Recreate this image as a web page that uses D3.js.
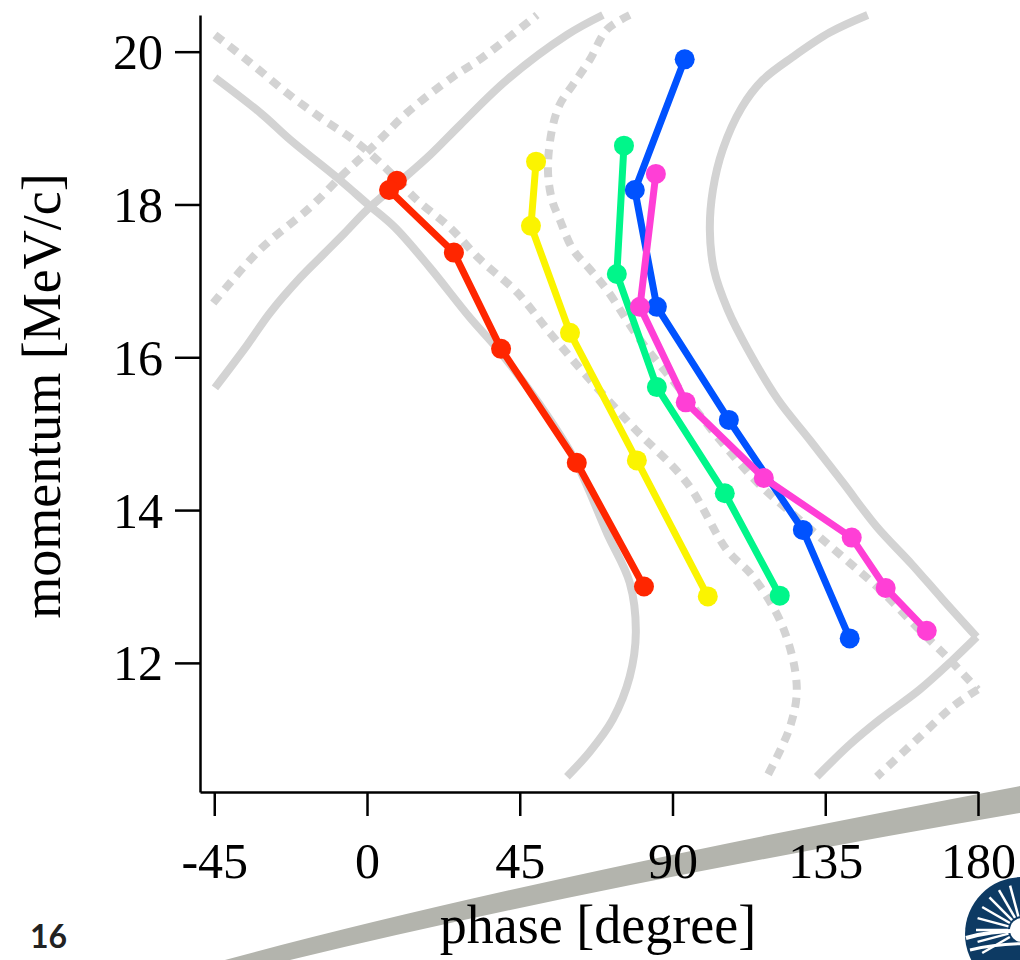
<!DOCTYPE html>
<html>
<head>
<meta charset="utf-8">
<script src="https://cdn.jsdelivr.net/npm/d3@7"></script>
<style>
  body { margin: 0; background: #fff; }
  svg { display: block; }
</style>
</head>
<body>
<svg id="chart" width="1020" height="960"></svg>
<script>
// ---- axis ticks ----
const xTicks = [-45, 0, 45, 90, 135, 180];
const yTicks = [12, 14, 16, 18, 20];

// ---- measured scans: [phase (degree), momentum (MeV/c)] ----
const redSeries = [[8.8, 18.31], [6.5, 18.19], [25.6, 17.37], [39.5, 16.11], [61.8, 14.62], [81.6, 13.0]];
const yellowSeries = [[49.8, 18.56], [48.3, 17.72], [59.8, 16.32], [79.5, 14.65], [100.4, 12.87]];
const greenSeries = [[75.7, 18.77], [73.6, 17.09], [85.4, 15.61], [105.4, 14.22], [121.6, 12.88]];
const blueSeries = [[93.6, 19.9], [78.9, 18.19], [85.4, 16.66], [106.6, 15.18], [128.4, 13.74], [142.2, 12.32]];
const magentaSeries = [[85.1, 18.4], [80.4, 16.66], [93.9, 15.41], [116.9, 14.42], [142.8, 13.64], [152.8, 12.98], [164.9, 12.42]];

// ---- simulated acceptance boundaries (grey) ----
const guideSolidA = [[-44.8, 19.66], [-30.9, 19.18], [-22.7, 18.85], [-8.0, 18.32], [0.3, 18.0], [8.2, 17.70],
  [18.6, 17.17], [30.3, 16.52], [39.2, 16.07], [50.9, 15.38], [61.2, 14.66], [70.7, 13.70], [77.4, 13.05],
  [79.2, 12.40], [77.4, 11.82], [72.4, 11.26], [65.7, 10.84], [58.9, 10.51]];
const guideSolidB = [[-44.8, 15.60], [-35.3, 16.16], [-28.6, 16.58], [-19.7, 17.04], [-13.0, 17.34], [-6.5, 17.63],
  [0, 17.93], [9.7, 18.30], [18.6, 18.65], [27.4, 19.04], [41.2, 19.63], [58.9, 20.22], [69.5, 20.48]];
const guideSolidCUpper = [[147.5, 20.48], [136.3, 20.25], [125.4, 19.93], [116.6, 19.63], [110.4, 19.27],
  [104.8, 18.72], [101.9, 18.19], [101.0, 17.67], [102.2, 17.15], [106.3, 16.62], [112.2, 16.10], [121.0, 15.45],
  [130.4, 14.92], [140.2, 14.36], [150.2, 13.78], [160.5, 13.29], [169.6, 12.83], [179.6, 12.34]];
const guideSolidCLower = [[179.6, 12.34], [172.6, 12.04], [162.8, 11.65], [151.1, 11.26], [142.2, 10.93], [132.5, 10.51]];
const guideDottedA = [[-44.8, 20.22], [-34.5, 19.86], [-23.6, 19.46], [-13.8, 19.14], [-2.9, 18.81], [5.9, 18.46],
  [14.7, 18.06], [24.4, 17.70], [33.3, 17.28], [44.2, 16.85], [53.9, 16.32], [64.8, 15.75], [78.3, 15.09],
  [94.2, 14.36], [106.0, 13.48], [113.7, 13.13], [122.5, 12.47], [126.6, 11.69], [124.6, 11.16], [117.8, 10.51]];
const guideDottedB = [[-45.3, 16.71], [-31.5, 17.41], [-16.8, 17.96], [-7.1, 18.39], [1.8, 18.76], [11.8, 19.20],
  [25.3, 19.67], [33.3, 19.90], [50.1, 20.48]];
const guideDottedCUpper = [[77.4, 20.48], [70.7, 20.29], [65.7, 19.90], [60.7, 19.57], [56.8, 19.31], [54.5, 18.98],
  [53.3, 18.46], [54.5, 18.06], [56.8, 17.80], [60.7, 17.41], [65.7, 17.15], [70.7, 16.88], [80.4, 16.23],
  [92.2, 15.58], [103.9, 14.92], [115.7, 14.33], [127.5, 13.87], [139.3, 13.42], [151.1, 12.96], [162.8, 12.43],
  [171.7, 12.04], [179.9, 11.65]];
const guideDottedCLower = [[179.9, 11.65], [172.6, 11.43], [162.8, 11.03], [150.2, 10.51]];

const solidGuides = [guideSolidA, guideSolidB, guideSolidCUpper, guideSolidCLower];
const dottedGuides = [guideDottedA, guideDottedB, guideDottedCUpper, guideDottedCLower];

const series = [
  { name: "red", color: "#ff2600", values: redSeries },
  { name: "yellow", color: "#fbf400", values: yellowSeries },
  { name: "green", color: "#00f68a", values: greenSeries },
  { name: "blue", color: "#0052ff", values: blueSeries },
  { name: "magenta", color: "#ff3fd6", values: magentaSeries }
];

const serif = "'Liberation Serif', 'Times New Roman', serif";
const svg = d3.select("#chart");

// slide swoosh behind the axis labels
svg.append("path")
  .attr("d", "M225,960 Q520,880 1020,786 L1020,813 Q600,885 290,960 Z")
  .attr("fill", "#b3b4ad");

const x = d3.scaleLinear().domain([-49.2, 180]).range([200, 978]);
const y = d3.scaleLinear().domain([10.31, 20.48]).range([792, 15]);

const guideLine = d3.line()
  .x(d => x(d[0]))
  .y(d => y(d[1]))
  .curve(d3.curveCatmullRom.alpha(0.5));

const gGuides = svg.append("g")
  .attr("fill", "none")
  .attr("stroke", "#d3d3d3")
  .attr("stroke-width", 8)
  .attr("stroke-linejoin", "miter");
gGuides.selectAll("path.solid").data(solidGuides).join("path")
  .attr("class", "solid")
  .attr("d", guideLine);
gGuides.selectAll("path.dotted").data(dottedGuides).join("path")
  .attr("class", "dotted")
  .attr("stroke-dasharray", "10,8")
  .attr("d", guideLine);

// axes
const yAxis = d3.axisLeft(y).tickValues(yTicks).tickSize(25).tickSizeOuter(0).tickFormat(d => String(d));
const xAxis = d3.axisBottom(x).tickValues(xTicks).tickSize(24).tickSizeOuter(0).tickFormat(d => String(d));

const gy = svg.append("g").attr("transform", "translate(200,0)").call(yAxis);
const gx = svg.append("g").attr("transform", "translate(0,792)").call(xAxis);

[gx, gy].forEach(g => {
  g.select(".domain").attr("stroke", "#000").attr("stroke-width", 2.5);
  g.selectAll(".tick line").attr("stroke", "#000").attr("stroke-width", 2.5);
  g.selectAll(".tick text")
    .attr("fill", "#000")
    .style("font-family", serif)
    .style("font-size", "50px");
});
gy.selectAll(".tick text").attr("x", -37).attr("dy", "0.34em");
gx.selectAll(".tick text").attr("y", 86).attr("dy", 0);

// axis titles
svg.append("text")
  .attr("transform", "translate(60,396) rotate(-90)")
  .attr("text-anchor", "middle")
  .style("font-family", serif)
  .style("font-size", "54px")
  .attr("fill", "#000")
  .text("momentum [MeV/c]");

svg.append("text")
  .attr("x", 598)
  .attr("y", 943)
  .attr("text-anchor", "middle")
  .style("font-family", serif)
  .style("font-size", "54px")
  .attr("fill", "#000")
  .text("phase [degree]");

// measured scans
const dataLine = d3.line().x(d => x(d[0])).y(d => y(d[1]));
const gSeries = svg.selectAll("g.series").data(series).join("g").attr("class", "series");
gSeries.append("path")
  .attr("fill", "none")
  .attr("stroke", d => d.color)
  .attr("stroke-width", 7)
  .attr("stroke-linejoin", "round")
  .attr("d", d => dataLine(d.values));
gSeries.selectAll("circle").data(d => d.values.map(v => ({ v, color: d.color }))).join("circle")
  .attr("cx", d => x(d.v[0]))
  .attr("cy", d => y(d.v[1]))
  .attr("r", 10)
  .attr("fill", d => d.color);

// slide page number
svg.append("text")
  .attr("x", 30)
  .attr("y", 948)
  .style("font-family", "Lato, 'DejaVu Sans', sans-serif")
  .style("font-weight", "bold")
  .style("font-size", "32px")
  .attr("fill", "#222")
  .text("16");

// corner logo
const logo = svg.append("g").attr("transform", "translate(1022,934)");
logo.append("circle").attr("r", 57).attr("fill", "#0d3a63");
const rayAngles = [150, 165, 180, 195, 210, 225, 240, 255, 270];
logo.selectAll("line").data(rayAngles).join("line")
  .attr("x1", d => 14 * Math.cos(d * Math.PI / 180))
  .attr("y1", d => 14 * Math.sin(d * Math.PI / 180) - 4)
  .attr("x2", d => 46 * Math.cos(d * Math.PI / 180))
  .attr("y2", d => 46 * Math.sin(d * Math.PI / 180) - 4)
  .attr("stroke", "#fff")
  .attr("stroke-width", 2.5);
logo.append("circle").attr("cy", -4).attr("r", 12).attr("fill", "#fff");
logo.append("path").attr("d", "M-56,4 Q-20,-6 20,-2").attr("fill", "none").attr("stroke", "#fff").attr("stroke-width", 4);
logo.append("path").attr("d", "M-52,16 Q-20,8 20,10").attr("fill", "none").attr("stroke", "#fff").attr("stroke-width", 3);
</script>
</body>
</html>
